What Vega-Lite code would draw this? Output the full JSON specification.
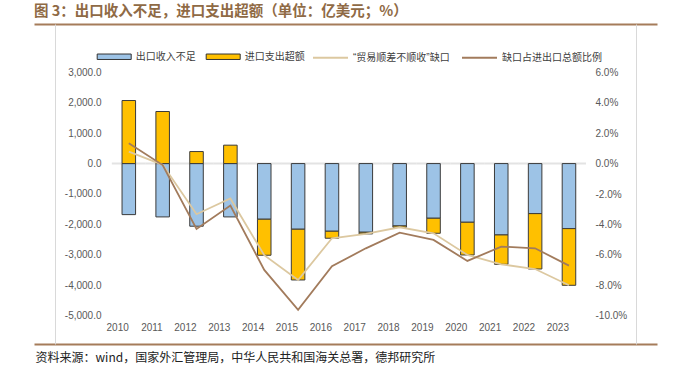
{
  "$schema": "https://vega.github.io/schema/vega-lite/v6.json",
  "width": 623,
  "height": 320,
  "autosize": {"type": "none"},
  "padding": {"left": 34, "top": 24, "right": 16, "bottom": 31},
  "background": "white",
  "config": {"view": {"stroke": null}, "font": "Liberation Sans", "axis": {"labelOverlap": false}},
  "title": {
    "text": "图 3：出口收入不足，进口支出超额（单位：亿美元；%）",
    "anchor": "start",
    "frame": "group",
    "font": "Noto Sans CJK SC",
    "fontSize": 14.5,
    "fontWeight": "bold",
    "color": "#8f6a45",
    "offset": 5
  },
  "datasets": {
    "bars": [
      {"year": "2010", "type": "出口收入不足", "ord": 1, "value": -1678},
      {"year": "2011", "type": "出口收入不足", "ord": 1, "value": -1753},
      {"year": "2012", "type": "出口收入不足", "ord": 1, "value": -2059},
      {"year": "2013", "type": "出口收入不足", "ord": 1, "value": -1753},
      {"year": "2014", "type": "出口收入不足", "ord": 1, "value": -1829},
      {"year": "2015", "type": "出口收入不足", "ord": 1, "value": -2158},
      {"year": "2016", "type": "出口收入不足", "ord": 1, "value": -2224},
      {"year": "2017", "type": "出口收入不足", "ord": 1, "value": -2257},
      {"year": "2018", "type": "出口收入不足", "ord": 1, "value": -2050},
      {"year": "2019", "type": "出口收入不足", "ord": 1, "value": -1797},
      {"year": "2020", "type": "出口收入不足", "ord": 1, "value": -1929},
      {"year": "2021", "type": "出口收入不足", "ord": 1, "value": -2346},
      {"year": "2022", "type": "出口收入不足", "ord": 1, "value": -1645},
      {"year": "2023", "type": "出口收入不足", "ord": 1, "value": -2138},
      {"year": "2010", "type": "进口支出超额", "ord": 2, "value": 2072},
      {"year": "2011", "type": "进口支出超额", "ord": 2, "value": 1711},
      {"year": "2012", "type": "进口支出超额", "ord": 2, "value": 395},
      {"year": "2013", "type": "进口支出超额", "ord": 2, "value": 605},
      {"year": "2014", "type": "进口支出超额", "ord": 2, "value": -1184},
      {"year": "2015", "type": "进口支出超额", "ord": 2, "value": -1668},
      {"year": "2016", "type": "进口支出超额", "ord": 2, "value": -230},
      {"year": "2017", "type": "进口支出超额", "ord": 2, "value": -55},
      {"year": "2018", "type": "进口支出超额", "ord": 2, "value": -44},
      {"year": "2019", "type": "进口支出超额", "ord": 2, "value": -494},
      {"year": "2020", "type": "进口支出超额", "ord": 2, "value": -1075},
      {"year": "2021", "type": "进口支出超额", "ord": 2, "value": -965},
      {"year": "2022", "type": "进口支出超额", "ord": 2, "value": -1820},
      {"year": "2023", "type": "进口支出超额", "ord": 2, "value": -1863}
    ],
    "lines": [
      {"year": "2010", "net": 394, "ratio": 0.0133},
      {"year": "2011", "net": -42, "ratio": -0.0010},
      {"year": "2012", "net": -1664, "ratio": -0.0430},
      {"year": "2013", "net": -1148, "ratio": -0.0276},
      {"year": "2014", "net": -3013, "ratio": -0.0699},
      {"year": "2015", "net": -3826, "ratio": -0.0962},
      {"year": "2016", "net": -2454, "ratio": -0.0675},
      {"year": "2017", "net": -2312, "ratio": -0.0557},
      {"year": "2018", "net": -2094, "ratio": -0.0454},
      {"year": "2019", "net": -2291, "ratio": -0.0502},
      {"year": "2020", "net": -3004, "ratio": -0.0640},
      {"year": "2021", "net": -3311, "ratio": -0.0546},
      {"year": "2022", "net": -3465, "ratio": -0.0557},
      {"year": "2023", "net": -4001, "ratio": -0.0671}
    ]
  },
  "layer": [
    {
      "layer": [
        {
          "data": {"name": "lines"},
          "mark": {"type": "tick", "color": "#e3e3e3", "thickness": 2, "size": 34, "opacity": 1},
          "encoding": {
            "x": {"field": "year", "type": "ordinal", "scale": {"type": "band", "domain": ["p1", "p2", "2010", "2011", "2012", "2013", "2014", "2015", "2016", "2017", "2018", "2019", "2020", "2021", "2022", "2023", "p3", "p4"], "paddingInner": 0, "paddingOuter": 0.2, "align": 0.75}},
            "y": {
              "datum": 0,
              "type": "quantitative",
              "scale": {"domain": [-5930, 4587], "nice": false, "zero": false},
              "axis": {
                "orient": "left",
                "offset": -21,
                "values": [-5000, -4000, -3000, -2000, -1000, 0, 1000, 2000, 3000],
                "format": ",.1f",
                "labelExpr": "replace(datum.label, '−', '-')",
                "labelOverlap": false,
                "labelPadding": -46,
                "ticks": false,
                "grid": false,
                "domainColor": "#d9d9d9",
                "domainWidth": 1,
                "title": null,
                "labelFont": "Liberation Sans",
                "labelFontSize": 10,
                "labelColor": "#595959"
              }
            }
          }
        },
        {
          "data": {"name": "bars"},
          "mark": {"type": "bar", "width": {"band": 0.4}, "stroke": "#3b3b3b", "strokeWidth": 1},
          "encoding": {
            "x": {
              "field": "year",
              "type": "ordinal",
              "scale": {"type": "band", "domain": ["p1", "p2", "2010", "2011", "2012", "2013", "2014", "2015", "2016", "2017", "2018", "2019", "2020", "2021", "2022", "2023", "p3", "p4"], "paddingInner": 0, "paddingOuter": 0.2, "align": 0.75},
              "axis": {
                "orient": "bottom",
                "domainColor": "#a57c5a",
                "domainWidth": 2,
                "ticks": false,
                "grid": false,
                "labelExpr": "indexof(datum.label, 'p') == 0 ? '' : datum.label",
                "labelPadding": -17,
                "labelBaseline": "middle",
                "labelAngle": 0,
                "labelFont": "Liberation Sans",
                "labelFontSize": 10,
                "labelColor": "#595959",
                "title": "资料来源：wind，国家外汇管理局，中华人民共和国海关总署，德邦研究所",
                "titleFont": "Noto Sans CJK SC",
                "titleFontSize": 12,
                "titleFontWeight": "normal",
                "titleColor": "#222222",
                "titleAnchor": "start",
                "titleAlign": "left",
                "titleX": 1,
                "titleY": 13,
                "titleBaseline": "middle"
              }
            },
            "y": {
              "field": "value",
              "type": "quantitative",
              "scale": {"domain": [-5930, 4587], "nice": false, "zero": false},
              "axis": {
                "orient": "left",
                "offset": -21,
                "values": [-5000, -4000, -3000, -2000, -1000, 0, 1000, 2000, 3000],
                "format": ",.1f",
                "labelExpr": "replace(datum.label, '−', '-')",
                "labelOverlap": false,
                "labelPadding": -46,
                "ticks": false,
                "grid": false,
                "domainColor": "#d9d9d9",
                "domainWidth": 1,
                "title": null,
                "labelFont": "Liberation Sans",
                "labelFontSize": 10,
                "labelColor": "#595959"
              }
            },
            "fill": {
              "field": "type",
              "type": "nominal",
              "scale": {"domain": ["出口收入不足", "进口支出超额"], "range": ["#9dc3e6", "#ffc000"]},
              "legend": {
                "orient": "none",
                "legendX": 62.7,
                "legendY": 15,
                "direction": "horizontal",
                "title": null,
                "symbolType": "M-1,-0.16L1,-0.16L1,0.16L-1,0.16Z",
                "symbolSize": 1156,
                "symbolStrokeColor": "#333333",
                "symbolStrokeWidth": 1,
                "labelFont": "Noto Sans CJK SC",
                "labelFontSize": 10,
                "labelColor": "#404040",
                "labelOffset": 4,
                "columnPadding": 8,
                "padding": 0
              }
            },
            "order": {"field": "ord", "type": "quantitative"}
          }
        },
        {
          "data": {"name": "lines"},
          "mark": {"type": "line", "strokeWidth": 1.8},
          "encoding": {
            "x": {"field": "year", "type": "ordinal", "scale": {"type": "band", "domain": ["p1", "p2", "2010", "2011", "2012", "2013", "2014", "2015", "2016", "2017", "2018", "2019", "2020", "2021", "2022", "2023", "p3", "p4"], "paddingInner": 0, "paddingOuter": 0.2, "align": 0.75}},
            "y": {
              "field": "net",
              "type": "quantitative",
              "scale": {"domain": [-5930, 4587], "nice": false, "zero": false},
              "axis": {
                "orient": "left",
                "offset": -21,
                "values": [-5000, -4000, -3000, -2000, -1000, 0, 1000, 2000, 3000],
                "format": ",.1f",
                "labelExpr": "replace(datum.label, '−', '-')",
                "labelOverlap": false,
                "labelPadding": -46,
                "ticks": false,
                "grid": false,
                "domainColor": "#d9d9d9",
                "domainWidth": 1,
                "title": null,
                "labelFont": "Liberation Sans",
                "labelFontSize": 10,
                "labelColor": "#595959"
              }
            },
            "stroke": {
              "datum": "“贸易顺差不顺收”缺口",
              "scale": {"domain": ["“贸易顺差不顺收”缺口", "缺口占进出口总额比例"], "range": ["#dcc8a0", "#a27b5c"]},
              "legend": {
                "orient": "none",
                "legendX": 278,
                "legendY": 15,
                "direction": "horizontal",
                "title": null,
                "symbolType": "stroke",
                "symbolSize": 1225,
                "symbolStrokeWidth": 2,
                "labelFont": "Liberation Sans, Noto Sans CJK SC",
                "labelFontSize": 10,
                "labelColor": "#404040",
                "labelOffset": 4,
                "columnPadding": 8,
                "padding": 0
              }
            }
          }
        }
      ]
    },
    {
      "data": {"name": "lines"},
      "mark": {"type": "line", "strokeWidth": 1.8},
      "encoding": {
        "x": {
          "field": "year",
          "type": "ordinal",
          "scale": {"type": "band", "domain": ["p1", "p2", "2010", "2011", "2012", "2013", "2014", "2015", "2016", "2017", "2018", "2019", "2020", "2021", "2022", "2023", "p3", "p4"], "paddingInner": 0, "paddingOuter": 0.2, "align": 0.75},
          "axis": {"orient": "top", "domainColor": "#a57c5a", "domainWidth": 2, "labels": false, "ticks": false, "grid": false, "title": null}
        },
        "y": {
          "field": "ratio",
          "type": "quantitative",
          "scale": {"domain": [-0.1186, 0.09175], "nice": false, "zero": false},
          "axis": {
            "orient": "right",
            "offset": -21,
            "values": [-0.1, -0.08, -0.06, -0.04, -0.02, 0, 0.02, 0.04, 0.06],
            "format": ".1%",
            "labelExpr": "replace(datum.label, '−', '-')",
            "labelOverlap": false,
            "labelPadding": -41,
            "ticks": false,
            "grid": false,
            "domainColor": "#d9d9d9",
            "domainWidth": 1,
            "title": null,
            "labelFont": "Liberation Sans",
            "labelFontSize": 10,
            "labelColor": "#595959"
          }
        },
        "stroke": {"datum": "缺口占进出口总额比例"}
      }
    }
  ],
  "resolve": {"scale": {"y": "independent"}, "axis": {"x": "independent"}}
}
